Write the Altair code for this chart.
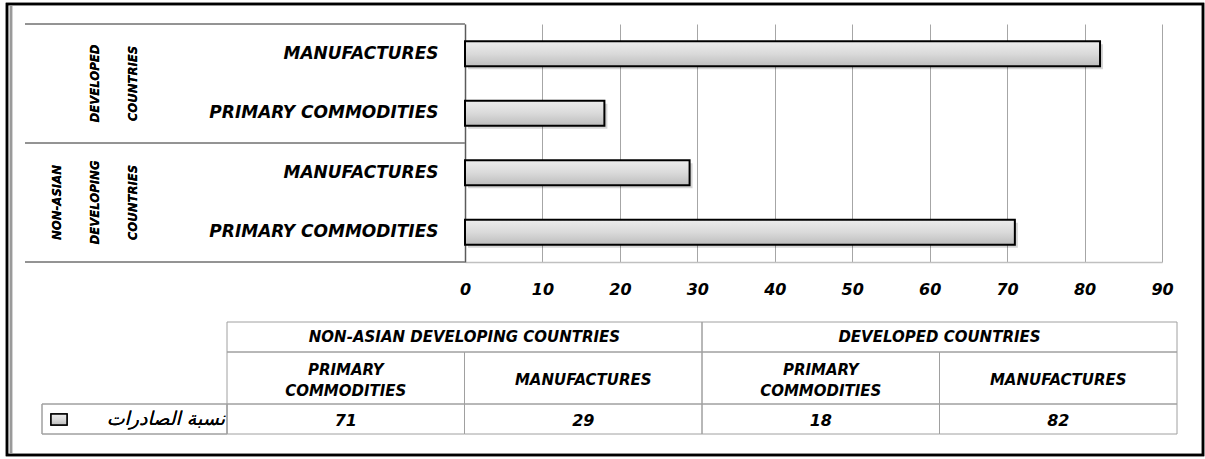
import altair as alt
import pandas as pd

# ---- data -------------------------------------------------------------
groups = ["Developed countries", "Developed countries",
          "Non-Asian developing countries", "Non-Asian developing countries"]
products = ["MANUFACTURES", "PRIMARY COMMODITIES", "MANUFACTURES", "PRIMARY COMMODITIES"]
shares = [82, 18, 29, 71]                      # export share, %
table_slots = [3, 2, 1, 0]                     # column of each bar in the data table
group_titles = ["NON-ASIAN DEVELOPING COUNTRIES", "DEVELOPED COUNTRIES"]
group_labels = ["DEVELOPED COUNTRIES", "NON-ASIAN DEVELOPING COUNTRIES"]
series_name = "نسبة الصادرات"
x_ticks = [0, 10, 20, 30, 40, 50, 60, 70, 80, 90]

keys = [g + "|" + p for g, p in zip(groups, products)]
df = pd.DataFrame({"key": keys, "product": products, "share": shares, "slot": table_slots})
heads = pd.DataFrame({"title": group_titles, "gidx": [0, 1]})

# ---- styling ------------------------------------------------------------
W, H = 697, 238
LEFT, TOP = 465, 24
WIDE = "DejaVu Sans"
NARROW = "Liberation Sans Narrow, DejaVu Sans Condensed, sans-serif"
GRID = "#a6a6a6"
LINE = "#a0a0a0"
bar_fill = {"gradient": "linear", "x1": 0, "x2": 0, "y1": 0, "y2": 1,
            "stops": [{"offset": 0, "color": "#ededed"},
                      {"offset": 0.5, "color": "#dadada"},
                      {"offset": 1, "color": "#bdbdbd"}]}

xq = alt.X("share:Q", scale=alt.Scale(domain=[0, 90], nice=False), title=None,
           axis=alt.Axis(values=x_ticks))
yb = alt.Y("key:N", sort=keys, title=None,
           scale=alt.Scale(paddingInner=0.58, paddingOuter=0.29))

shadow = alt.Chart(df).mark_bar(color="#000000", opacity=0.16, xOffset=3, yOffset=3).encode(x=xq, y=yb)
bars = alt.Chart(df).mark_bar(fill=bar_fill, stroke="#000000", strokeWidth=2).encode(x=xq, y=yb)

def hline(y, x0, x1, color, width=1):
    return alt.Chart(df).mark_rule(color=color, strokeWidth=width).encode(
        x=alt.value(x0), x2=alt.value(x1), y=alt.value(y))

# left-hand category frame
left_lines = [hline(0, -440, 0, "#8c8c8c"), hline(H / 2, -440, 0, "#8c8c8c"), hline(H, -440, 0, "#8c8c8c")]

# rotated group names; the first line sits at the anchor, the others follow to the right
def group_name(text, x, y):
    return alt.Chart(heads).mark_text(
        angle=270, font=NARROW, fontSize=13, fontStyle="italic", fontWeight="bold",
        lineBreak=" ", lineHeight=38, align="center", baseline="middle", color="#000"
    ).encode(x=alt.value(x), y=alt.value(y), text=alt.value(text))

dev_label = group_name(group_labels[0], 95 - LEFT, H / 4)
non_label = group_name(group_labels[1], 57 - LEFT, 3 * H / 4)

plot = alt.layer(shadow, bars, *left_lines, dev_label, non_label)

# ---- data table under the chart ----------------------------------------
slot_scale = alt.Scale(domain=[-0.5, 3.5], range=[-238, 712], nice=False, zero=False)
T1, T2, T3, T4 = 298, 328, 380, 410

def cells(data, lo, hi, y0, y1):
    return alt.Chart(data).mark_rect(fillOpacity=0, stroke=LINE, strokeWidth=1).transform_calculate(
        lo=lo, hi=hi
    ).encode(
        x=alt.X("lo:Q", scale=slot_scale, axis=None), x2="hi:Q",
        y=alt.value(y0), y2=alt.value(y1))

head_cells = cells(heads, "datum.gidx * 2 - 0.5", "datum.gidx * 2 + 1.5", T1, T2)
prod_cells = cells(df, "datum.slot - 0.5", "datum.slot + 0.5", T2, T3)
val_cells = cells(df, "datum.slot - 0.5", "datum.slot + 0.5", T3, T4)

head_text = alt.Chart(heads).mark_text(
    font=WIDE, fontSize=15, fontStyle="italic", fontWeight="bold", color="#000"
).transform_calculate(mid="datum.gidx * 2 + 0.5").encode(
    x=alt.X("mid:Q", scale=slot_scale, axis=None), y=alt.value((T1 + T2) / 2), text="title:N")

def prod_text(test, y):
    return alt.Chart(df).mark_text(
        font=WIDE, fontSize=15, fontStyle="italic", fontWeight="bold", color="#000",
        lineBreak=" ", lineHeight=21
    ).transform_filter(test).encode(
        x=alt.X("slot:Q", scale=slot_scale, axis=None), y=alt.value(y), text="product:N")

prod_two = prod_text("indexof(datum.product, ' ') >= 0", 370 - TOP)
prod_one = prod_text("indexof(datum.product, ' ') < 0", 380 - TOP)

val_text = alt.Chart(df).mark_text(
    font=WIDE, fontSize=16, fontStyle="italic", fontWeight="bold", color="#000"
).encode(x=alt.X("slot:Q", scale=slot_scale, axis=None), y=alt.value((T3 + T4) / 2 + 2), text="share:Q")

legend_cell = alt.Chart(heads).mark_rect(fillOpacity=0, stroke=LINE, strokeWidth=1).encode(
    x=alt.value(-423), x2=alt.value(-238), y=alt.value(T3), y2=alt.value(T4))
legend_swatch = alt.Chart(heads).mark_rect(fill=bar_fill, stroke="#000", strokeWidth=1.5).encode(
    x=alt.value(51 - LEFT), x2=alt.value(67 - LEFT), y=alt.value(T3 + 10), y2=alt.value(T3 + 21))
legend_text = alt.Chart(heads).mark_text(
    font=WIDE, fontSize=19, fontStyle="italic", align="right", baseline="middle", color="#000"
).encode(x=alt.value(-240), y=alt.value((T3 + T4) / 2), text=alt.value(series_name))

# outer frame of the whole figure
frame = alt.Chart(heads).mark_rect(fillOpacity=0, stroke="#000", strokeWidth=2.5).encode(
    x=alt.value(7 - LEFT), x2=alt.value(1203 - LEFT), y=alt.value(4 - TOP), y2=alt.value(455 - TOP))
frame_inner = alt.Chart(heads).mark_rule(color="#9a9a9a", strokeWidth=2.5).encode(
    x=alt.value(11 - LEFT), y=alt.value(6 - TOP), y2=alt.value(453 - TOP))

table = alt.layer(head_cells, prod_cells, val_cells, head_text, prod_two, prod_one, val_text,
                  legend_cell, legend_swatch, legend_text, frame, frame_inner)

chart = alt.layer(plot, table).resolve_scale(x="independent").properties(
    width=W, height=H,
    autosize=alt.AutoSizeParams(type="none"),
    padding={"left": LEFT, "top": TOP, "right": 1205 - LEFT - W, "bottom": 459 - TOP - H},
    background="#ffffff",
).configure_view(stroke=None).configure_axisX(
    grid=True, gridColor=GRID, gridWidth=1, domainColor="#c0c0c0", domainWidth=1.5,
    ticks=False, labelPadding=19, labelFont=WIDE, labelFontSize=16, labelFontStyle="italic",
    labelFontWeight="bold", labelColor="#000", labelFlush=False,
).configure_axisY(
    grid=False, domainColor="#5a5a5a", domainWidth=1.5, ticks=False, labelPadding=27,
    labelExpr="split(datum.label, '|')[1]", labelFont=WIDE, labelFontSize=17,
    labelFontStyle="italic", labelFontWeight="bold", labelColor="#000", labelLimit=400,
)

chart.save("out.html", embed_options={"renderer": "svg", "actions": False})
